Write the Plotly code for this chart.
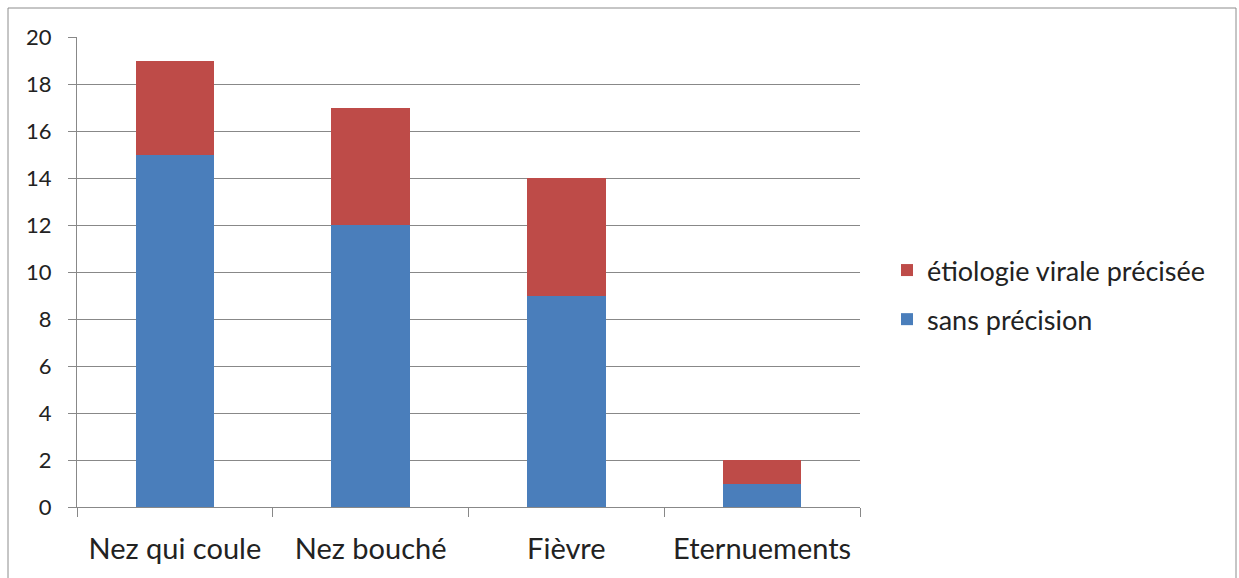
import plotly.graph_objects as go

categories = ["Nez qui coule", "Nez bouché", "Fièvre", "Eternuements"]
sans_precision = [15, 12, 9, 1]
etiologie_virale = [4, 5, 5, 1]
y_ticks = [0, 2, 4, 6, 8, 10, 12, 14, 16, 18, 20]

W, H = 1239, 578
L, R, T, B = 77, 860, 37, 507

fig = go.Figure()
fig.add_trace(go.Bar(x=categories, y=sans_precision, name="sans précision",
                     legendgroup="a", legendrank=2,
                     marker=dict(color="#4A7EBB", line=dict(width=0))))
fig.add_trace(go.Bar(x=categories, y=etiologie_virale, name="étiologie virale précisée",
                     legendgroup="b", legendrank=1,
                     marker=dict(color="#BE4B48", line=dict(width=0))))

def px(x):
    return (x - L) / (R - L)

def py(y):
    return (B - y) / (B - T)

fig.add_shape(type="rect", xref="paper", yref="paper",
              x0=px(8), x1=px(1236), y0=py(600), y1=py(8),
              line=dict(color="#8C8C8C", width=1), fillcolor="rgba(0,0,0,0)",
              layer="below")

font_family = "Lato, 'Open Sans', sans-serif"
fig.update_layout(
    width=W, height=H,
    margin=dict(l=L, r=W - R, t=T, b=H - B, pad=0),
    barmode="stack", bargap=0.6,
    plot_bgcolor="white", paper_bgcolor="white",
    font=dict(family=font_family, color="#222222"),
    showlegend=True,
    legend=dict(x=px(887), y=py(295), xanchor="left", yanchor="middle",
                traceorder="grouped", tracegroupgap=11,
                font=dict(size=27, color="#222222"),
                itemsizing="constant", itemwidth=30,
                bgcolor="rgba(0,0,0,0)"),
    xaxis=dict(type="category", showgrid=False, showline=True, linecolor="#888888",
               linewidth=1, ticks="outside", ticklen=9, tickcolor="#888888",
               tickson="boundaries", tickfont=dict(size=29, color="#222222"),
               ticklabelstandoff=16),
    yaxis=dict(range=[0, 20], tickvals=y_ticks, showgrid=True, gridcolor="#888888",
               gridwidth=1, showline=True, linecolor="#888888", linewidth=1,
               ticks="outside", ticklen=8, tickcolor="#888888",
               tickfont=dict(size=22, color="#222222"), ticklabelstandoff=12,
               zeroline=False),
)

fig.write_html("out.html", config={"displayModeBar": False},
               post_script="document.body.style.margin='0';document.body.style.overflow='hidden';")
